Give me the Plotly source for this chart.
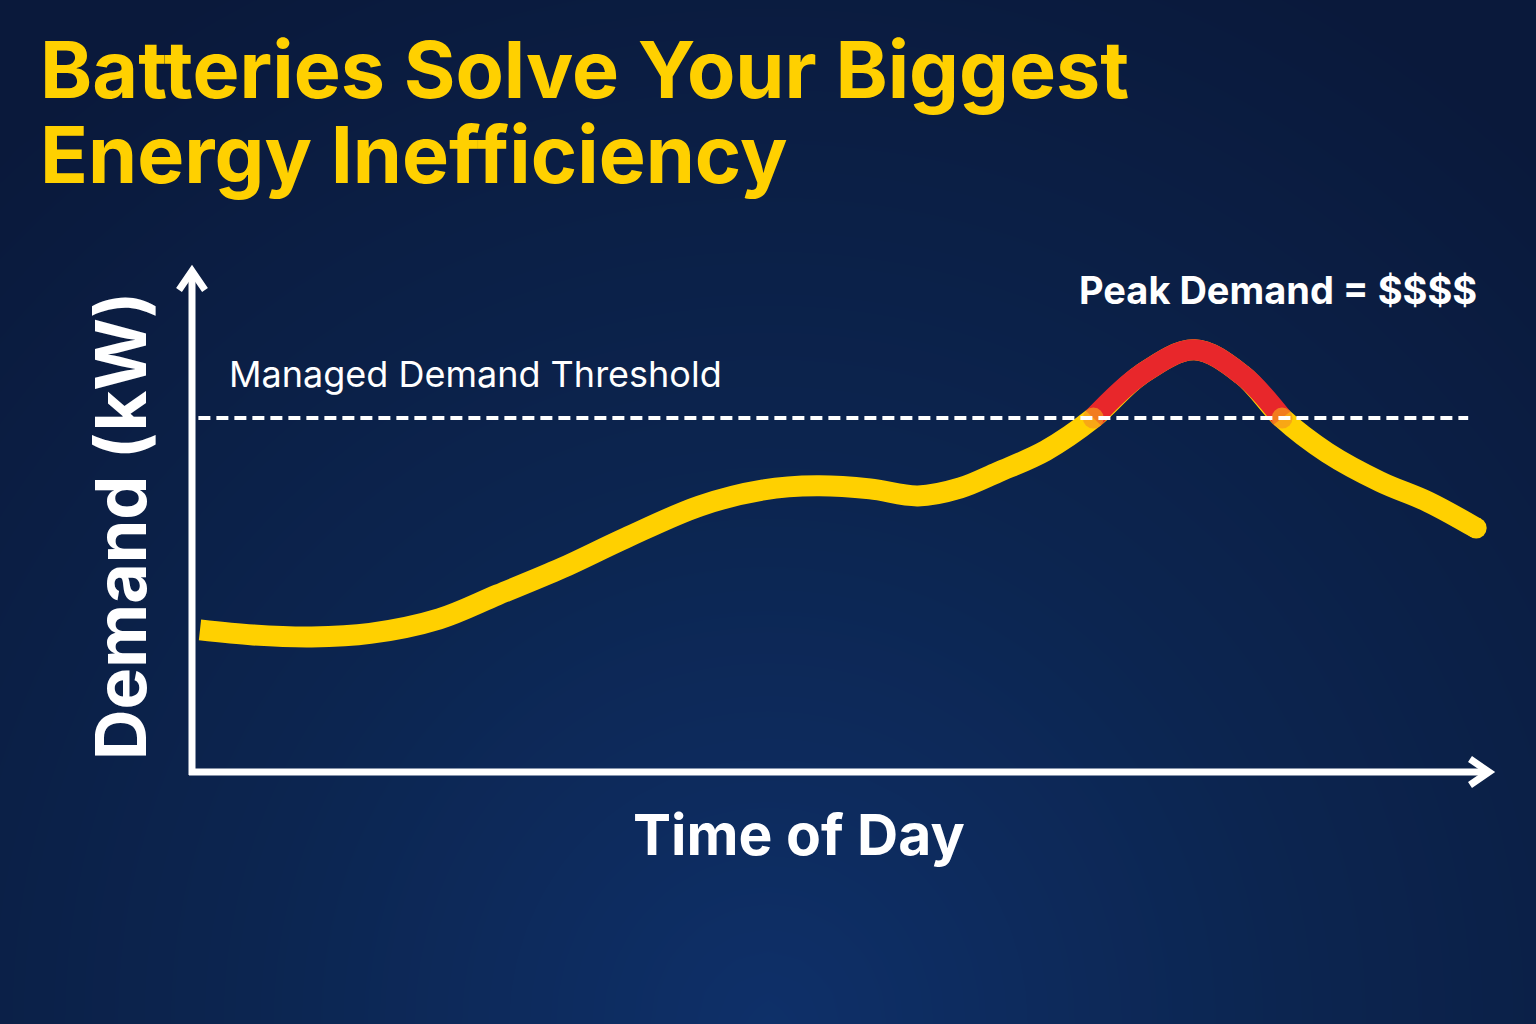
import numpy as np
import plotly.graph_objects as go

# ---------------- data ----------------
hours = [0.0, 1.0, 2.1, 3.2, 4.5, 5.6, 6.8, 8.0, 9.4, 10.6, 11.6, 12.6, 13.5, 14.3, 15.0, 15.9, 16.8, 17.7, 18.7, 19.6, 20.35, 21.2, 22.2, 23.1, 24.0]
demand_kw = [28.3, 27.3, 26.9, 27.6, 30.5, 35.3, 40.6, 46.6, 53.0, 56.2, 57.0, 56.4, 55.0, 56.6, 59.7, 64.0, 70.5, 79.2, 84.1, 79.1, 70.5, 63.6, 57.8, 53.8, 48.6]
threshold_kw = 70.5

title_lines = ["Batteries Solve Your Biggest", "Energy Inefficiency"]
y_label = "Demand (kW)"
x_label = "Time of Day"
threshold_label = "Managed Demand Threshold"
peak_label = "Peak Demand = $$$$"

# ---------------- styling helpers ----------------
W, H = 1536, 1024
def px(x):
    return x / W
def py(y):
    return 1 - y / H

YELLOW = "#FFD000"
RED = "#E8272B"
ORANGE = "#F69A1C"
WHITE = "#FFFFFF"

fig = go.Figure()

# background gradient (decorative) on a full-figure axis pair
gx = np.linspace(0, 1, 49)
gy = np.linspace(0, 1, 33)
GX, GY = np.meshgrid(gx, gy)
T = np.clip(np.sqrt(((GX - 0.5) / 0.75) ** 2 + ((GY - 0.0) / 1.15) ** 2), 0, 1)
fig.add_trace(go.Heatmap(
    x=gx, y=gy, z=T, xaxis="x", yaxis="y", zsmooth="best", showscale=False,
    colorscale=[[0, "#0e3069"], [0.45, "#0c2550"], [1, "#0a193b"]],
    zmin=0, zmax=1, hoverinfo="skip"))

# main demand curve
fig.add_trace(go.Scatter(
    x=hours, y=demand_kw, mode="lines", xaxis="x2", yaxis="y2",
    line=dict(color=YELLOW, width=21, shape="spline", smoothing=1.0),
    hoverinfo="skip", showlegend=False))

# segment above the threshold
above_idx = [i for i, v in enumerate(demand_kw) if v >= threshold_kw]
hx = [hours[i] for i in range(above_idx[0], above_idx[-1] + 1)]
hy = [demand_kw[i] for i in range(above_idx[0], above_idx[-1] + 1)]
fig.add_trace(go.Scatter(
    x=hx, y=hy, mode="lines", xaxis="x2", yaxis="y2",
    line=dict(color=RED, width=21, shape="spline", smoothing=1.0),
    hoverinfo="skip", showlegend=False))

# orange blend where the curve crosses the threshold
fig.add_trace(go.Scatter(
    x=[hx[0], hx[-1]], y=[hy[0], hy[-1]], mode="markers", xaxis="x2", yaxis="y2",
    marker=dict(color=ORANGE, size=21, opacity=0.75, line=dict(width=0)),
    hoverinfo="skip", showlegend=False))

# rounded end cap
fig.add_trace(go.Scatter(
    x=[hours[-1]], y=[demand_kw[-1]], mode="markers", xaxis="x2", yaxis="y2",
    marker=dict(color=YELLOW, size=21, line=dict(width=0)),
    hoverinfo="skip", showlegend=False))

shapes = []
# threshold dashed line
shapes.append(dict(type="line", xref="x2", yref="y2", x0=-0.03, x1=23.85,
                   y0=threshold_kw, y1=threshold_kw, layer="above",
                   line=dict(color=WHITE, width=4, dash="12px,6px")))
# axes with arrows
shapes.append(dict(type="line", xref="paper", yref="paper",
                   x0=px(192), x1=px(192), y0=py(775), y1=py(271),
                   line=dict(color=WHITE, width=7)))
shapes.append(dict(type="line", xref="paper", yref="paper",
                   x0=px(189), x1=px(1489), y0=py(772), y1=py(772),
                   line=dict(color=WHITE, width=7)))
def path(points):
    s = "M " + " L ".join(f"{px(a):.5f},{py(b):.5f}" for a, b in points)
    return s
shapes.append(dict(type="path", xref="paper", yref="paper",
                   path=path([(179, 290), (192, 271), (205, 290)]),
                   line=dict(color=WHITE, width=7)))
shapes.append(dict(type="path", xref="paper", yref="paper",
                   path=path([(1470, 759), (1489, 772), (1470, 785)]),
                   line=dict(color=WHITE, width=7)))

annotations = [
    dict(text=title_lines[0], x=px(38), y=py(69), xref="paper", yref="paper",
         xanchor="left", yanchor="middle", align="left", showarrow=False,
         font=dict(family="Inter", size=79, color=YELLOW, weight=700)),
    dict(text=title_lines[1], x=px(38), y=py(154), xref="paper", yref="paper",
         xanchor="left", yanchor="middle", align="left", showarrow=False,
         font=dict(family="Inter", size=79, color=YELLOW, weight=700)),
    dict(text=y_label, x=px(120), y=py(526), xref="paper", yref="paper",
         xanchor="center", yanchor="middle", textangle=-90, showarrow=False,
         font=dict(family="Inter", size=70, color=WHITE, weight=700)),
    dict(text=x_label, x=px(799), y=py(834), xref="paper", yref="paper",
         xanchor="center", yanchor="middle", showarrow=False,
         font=dict(family="Inter", size=57, color=WHITE, weight=700)),
    dict(text=peak_label, x=px(1479), y=py(290), xref="paper", yref="paper",
         xanchor="right", yanchor="middle", showarrow=False,
         font=dict(family="Inter", size=38, color=WHITE, weight=700)),
    dict(text=threshold_label, x=px(227), y=py(374), xref="paper", yref="paper",
         xanchor="left", yanchor="middle", showarrow=False,
         font=dict(family="Inter", size=36, color=WHITE, weight=400)),
]

fig.update_layout(
    width=W, height=H,
    margin=dict(l=0, r=0, t=0, b=0),
    paper_bgcolor="#0b1f47", plot_bgcolor="rgba(0,0,0,0)",
    showlegend=False,
    xaxis=dict(domain=[0, 1], range=[0, 1], visible=False, fixedrange=True),
    yaxis=dict(domain=[0, 1], range=[0, 1], visible=False, fixedrange=True),
    xaxis2=dict(domain=[px(192), px(1490)], range=[-0.15, 24.26], anchor="y2",
                visible=False, fixedrange=True),
    yaxis2=dict(domain=[py(772), py(270)], range=[0, 100], anchor="x2",
                visible=False, fixedrange=True),
    shapes=shapes, annotations=annotations,
)

fig.write_html("out.html", config={"displayModeBar": False},
               post_script="document.body.style.margin='0';document.body.style.background='#0a193b';")
